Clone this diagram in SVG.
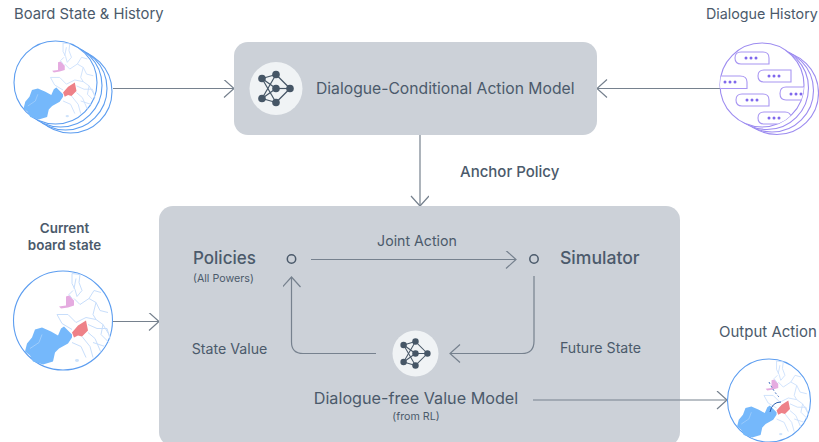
<svg xmlns="http://www.w3.org/2000/svg" width="819" height="442" viewBox="0 0 819 442">
<style>
text{font-family:Inter,"Liberation Sans",sans-serif;fill:#4b5a6b}
.box{fill:#ccd1d8}
.conn{fill:none;stroke:#76818e;stroke-width:1.2}
.ring{fill:#fff;stroke:#5c9df0;stroke-width:1.1}
.pring{fill:#fff;stroke:#9d8cf0;stroke-width:1.1}
.bub{fill:#fff;stroke:#a896f2;stroke-width:1.1}
.dots{fill:#7f68ec}
.bord{fill:none;stroke:#c8defb;stroke-width:1}
.nn line{stroke:#465666;stroke-width:1.2}
.nn circle{fill:#465666}
.h{font-size:14.2px}
.m{font-size:15.7px}
.b{font-size:17px;font-weight:500}
.s{font-size:10.7px}
.c{text-anchor:middle}
</style>
<defs>
<marker id="a" markerWidth="14" markerHeight="20" refX="11" refY="9" orient="auto" markerUnits="userSpaceOnUse"><path d="M1 0L11 9L1 18" fill="none" stroke="#76818e" stroke-width="1.2"/></marker>
<g id="map">
<path class="bord" d="M9-47L17-46L16-38L19-30L14-24L12-31L9-37ZM13-42L11-32M11-22L17-16L26-22L33-18L37-10L45-8M-6-6L5-6L13 2L23-3L33-1L40 4L46 14M-6-6L-1 3L9 9M25 4L34 8L44 8L47 18M25 12L32 18L38 32M19 16L27 26L30 37M9 22L18 26L23 37M33-18L30-6L33-1M26-22L31-30L38-28M40 4L38 14L46 22M30 22L42 26M10-30L6-26L9-22"/>
<path d="M-38 31L-36 23L-31 17L-28 9L-21 7L-12 11L-5 15L-2 8L1 6L9 14L9 17L5 23L-4 28L-8 32L-10 41L-20 44L-30 41L-33 35Z" fill="#75b8fb"/>
<path d="M-33 28L-24 22L-21 14" fill="none" stroke="#a9d2fb" stroke-width=".8"/>
<path d="M9 12L15 5L23 0L25 10L19 16L15 15L11 17Z" fill="#ee8188"/>
<path d="M-4-14L3-15L3-24L6-25L11-20L11-15L5-13L-2-12Z" fill="#e5abe0"/>
<ellipse cx="14" cy="40" rx="2" ry="1.4" fill="#cfe3fb"/>
</g>
<g id="nn" class="nn">
<line x1="-14" y1="-10" x2="0" y2="-14"/><line x1="-14" y1="-10" x2="0" y2="0"/><line x1="-14" y1="-10" x2="0" y2="14"/><line x1="-14" y1="10" x2="0" y2="-14"/><line x1="-14" y1="10" x2="0" y2="0"/><line x1="-14" y1="10" x2="0" y2="14"/><line x1="0" y1="-14" x2="14" y2="0"/><line x1="0" y1="0" x2="14" y2="0"/><line x1="0" y1="14" x2="14" y2="0"/>
<circle cx="-14" cy="-10" r="3.8"/><circle cx="-14" cy="10" r="3.8"/><circle cx="0" cy="-14" r="3.8"/><circle cx="0" cy="0" r="3.8"/><circle cx="0" cy="14" r="3.8"/><circle cx="14" cy="0" r="3.8"/>
</g>
<g id="d3" class="dots"><circle cx="-5" cy="0" r="1.5"/><circle cx="0" cy="0" r="1.5"/><circle cx="5" cy="0" r="1.5"/></g>
<clipPath id="dc"><circle cx="762" cy="85" r="42"/></clipPath>
</defs>
<g id="connectors">
<path class="conn" d="M113 88.500H234" marker-end="url(#a)"/>
<path class="conn" d="M720 88.500H597" marker-end="url(#a)"/>
<path class="conn" d="M420 135V206" marker-end="url(#a)"/>
<path class="conn" d="M113 321.500H159" marker-end="url(#a)"/>
</g>
<g id="action-model"><rect class="box" x="234" y="42" width="363" height="93" rx="14"/>
<circle cx="276" cy="88.500" r="26.500" fill="#f0f3f5"/><use href="#nn" x="276" y="88.500"/>
<text class="m" x="316" y="94">Dialogue-Conditional Action Model</text></g>
<g id="search-box"><rect class="box" x="159" y="206" width="521" height="240" rx="14"/></g>
<g id="inner-connectors">
<path class="conn" d="M311 259.500H516" marker-end="url(#a)"/>
<path class="conn" d="M534 276V341Q534 353.500 522 353.500H450" marker-end="url(#a)"/>
<path class="conn" d="M376 353.500H303Q291.500 353.500 291.500 342V277" marker-end="url(#a)"/>
<path class="conn" d="M533 400H727" marker-end="url(#a)"/>
</g>
<g id="policies"><circle cx="291.500" cy="259" r="4.200" fill="none" stroke="#4b5a6b" stroke-width="1.500"/>
<text class="b" x="193" y="264">Policies</text><text class="s" x="193" y="282">(All Powers)</text></g>
<g id="simulator"><circle cx="534" cy="259" r="4.200" fill="none" stroke="#4b5a6b" stroke-width="1.500"/>
<text class="b" x="560" y="264" style="font-size:17.6px">Simulator</text></g>
<g id="value-model"><circle cx="415.500" cy="353.500" r="23" fill="#f0f3f5"/><use href="#nn" transform="translate(415.500 353.500) scale(.85)"/>
<text class="c" x="416" y="404" style="font-size:16.2px">Dialogue-free Value Model</text><text class="s c" x="416" y="420">(from RL)</text></g>
<text class="h c" x="417" y="246">Joint Action</text>
<text class="h c" x="229.500" y="354">State Value</text>
<text class="h c" x="600.500" y="353">Future State</text>
<text x="460" y="177" style="font-size:15px;font-weight:500">Anchor Policy</text>
<g id="board-history">
<text class="h" x="14" y="19" style="font-size:14.8px">Board State &amp; History</text>
<circle class="ring" cx="70.500" cy="91.500" r="41.500"/><circle class="ring" cx="65.500" cy="88.500" r="41.500"/><circle class="ring" cx="60.500" cy="85.500" r="41.500"/><circle class="ring" cx="55.500" cy="82.500" r="41.500"/>
<use href="#map" transform="translate(55.500 82.500) scale(.84)"/></g>
<g id="dialogue-history">
<text class="h" x="706" y="19" style="font-size:14.3px">Dialogue History</text>
<circle class="pring" cx="777" cy="93" r="41.500"/><circle class="pring" cx="772" cy="90.500" r="41.500"/><circle class="pring" cx="767" cy="88" r="41.500"/><circle class="pring" cx="762" cy="85" r="42"/>
<g clip-path="url(#dc)">
<path class="bub" d="M741 52H763Q769 52 769 58V64H741Q735 64 735 58Q735 52 741 52Z"/>
<path class="bub" d="M717 76H740Q747 76 747 82V88.500H717Z"/>
<path class="bub" d="M764 70H791V82H764Q758 82 758 76Q758 70 764 70Z"/>
<path class="bub" d="M742 94H763Q769 94 769 100V106H742Q736 106 736 100Q736 94 742 94Z"/>
<path class="bub" d="M786 87H810V100H786Q780 100 780 93.500Q780 87 786 87Z"/>
<path class="bub" d="M764 112H785Q791 112 791 118V124H764Q758 124 758 118Q758 112 764 112Z"/>
<use href="#d3" x="751" y="58"/><use href="#d3" x="730" y="82"/><use href="#d3" x="774" y="76"/><use href="#d3" x="752" y="100"/><use href="#d3" x="796" y="94"/><use href="#d3" x="774" y="118"/>
</g></g>
<g id="current-board">
<text class="c" x="64.500" y="233" style="font-size:13.4px;font-weight:600">Current</text><text class="c" x="64.500" y="250" style="font-size:13.4px;font-weight:600">board state</text>
<circle class="ring" cx="63" cy="320.500" r="49.500"/><use href="#map" x="63" y="320.500"/></g>
<g id="output-action">
<text class="h" x="719" y="337" style="font-size:15px">Output Action</text>
<circle class="ring" cx="769" cy="400.500" r="41.500"/><use href="#map" transform="translate(769 400.500) scale(.84)"/>
<path d="M769 382Q774 392 779 397" fill="none" stroke="#3f6fc0" stroke-width="1" stroke-dasharray="2 2"/>
<path d="M770 412Q772 402 781 402" fill="none" stroke="#2f62b0" stroke-width="1"/></g>
</svg>
